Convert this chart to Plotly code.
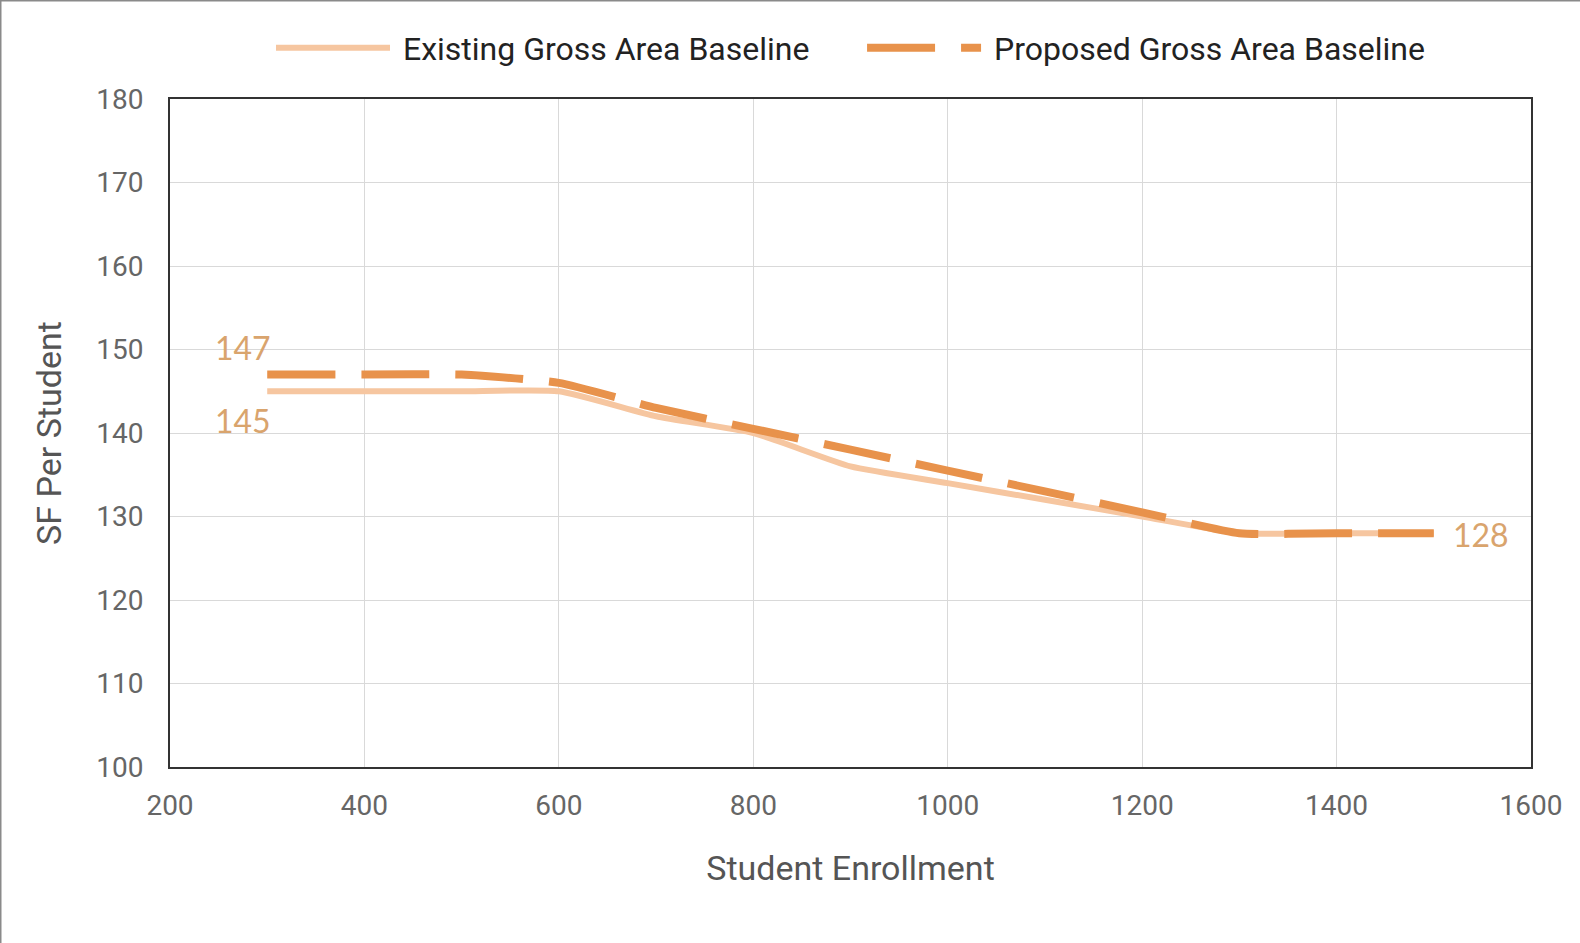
import plotly.graph_objects as go

enrollment = [300, 400, 500, 600, 700, 800, 900, 1000, 1100, 1200, 1300, 1400, 1500]
existing = [145, 145, 145, 145, 142, 140, 136, 134, 132, 130, 128, 128, 128]
proposed = [147, 147, 147, 146, 143, 140.5, 138, 135.5, 133, 130.5, 128, 128, 128]

series_names = ["Existing Gross Area Baseline", "Proposed Gross Area Baseline"]
x_ticks = [200, 400, 600, 800, 1000, 1200, 1400, 1600]
y_ticks = [100, 110, 120, 130, 140, 150, 160, 170, 180]

EXIST_COLOR = "#f6c6a0"
PROP_COLOR = "#e8924b"
LABEL_COLOR = "#d9a46d"

fig = go.Figure()
fig.add_trace(go.Scatter(
    x=enrollment, y=existing, name="\u00a0" + series_names[0] + "\u00a0" * 6, mode="lines",
    line=dict(color=EXIST_COLOR, width=6, shape="spline", smoothing=0.5),
))
fig.add_trace(go.Scatter(
    x=enrollment, y=proposed, name="\u00a0" + series_names[1], mode="lines",
    line=dict(color=PROP_COLOR, width=8, dash="68px,26px", shape="spline", smoothing=0.5),
))

label_font = dict(family="Lato, 'Open Sans', sans-serif", size=32, color=LABEL_COLOR)
fig.add_annotation(x=enrollment[0], y=proposed[0], text=str(proposed[0]), showarrow=False,
                   xanchor="right", yanchor="bottom", xshift=6, yshift=6, font=label_font)
fig.add_annotation(x=enrollment[0], y=existing[0], text=str(existing[0]), showarrow=False,
                   xanchor="right", yanchor="top", xshift=6, yshift=-8, font=label_font)
fig.add_annotation(x=enrollment[-1], y=proposed[-1], text=str(proposed[-1]), showarrow=False,
                   xanchor="left", yanchor="middle", xshift=17, yshift=-1, font=label_font)

L, R, T, B = 170, 49, 99, 176
W, H = 1580, 943
pw, ph = W - L - R, H - T - B
x_left = -L / pw
y_top = 1 + T / ph
y_bot = -B / ph
fig.add_shape(type="line", xref="paper", yref="paper", x0=x_left, x1=1 + R / pw, y0=y_top, y1=y_top,
              line=dict(color="#8a8a8a", width=3))
fig.add_shape(type="line", xref="paper", yref="paper", x0=x_left, x1=x_left, y0=y_bot, y1=y_top,
              line=dict(color="#8a8a8a", width=3))

axis_common = dict(
    showgrid=True, gridcolor="#d9d9d9", gridwidth=1,
    showline=True, linecolor="#333333", linewidth=2, mirror=True,
    zeroline=False, ticks="",
    tickfont=dict(family="Roboto, sans-serif", size=28, color="#666666"),
)

fig.update_layout(
    width=W, height=H,
    margin=dict(l=L, r=R, t=T, b=B, autoexpand=False),
    paper_bgcolor="white", plot_bgcolor="white",
    showlegend=True,
    legend=dict(orientation="h", x=0.5, xanchor="center", y=1 + 51 / ph, yanchor="middle",
                font=dict(family="Roboto, sans-serif", size=32, color="#222222"),
                itemwidth=114, bgcolor="rgba(0,0,0,0)"),
    xaxis=dict(range=[200, 1600], tickvals=x_ticks, ticklabelstandoff=12,
               title=dict(text="Student Enrollment", standoff=36,
                          font=dict(family="Roboto, sans-serif", size=34, color="#555555")),
               **axis_common),
    yaxis=dict(range=[100, 180], tickvals=y_ticks, ticklabelstandoff=19,
               title=dict(text="SF Per Student", standoff=24,
                          font=dict(family="Roboto, sans-serif", size=34, color="#555555")),
               **axis_common),
)

fig.write_html("out.html")
